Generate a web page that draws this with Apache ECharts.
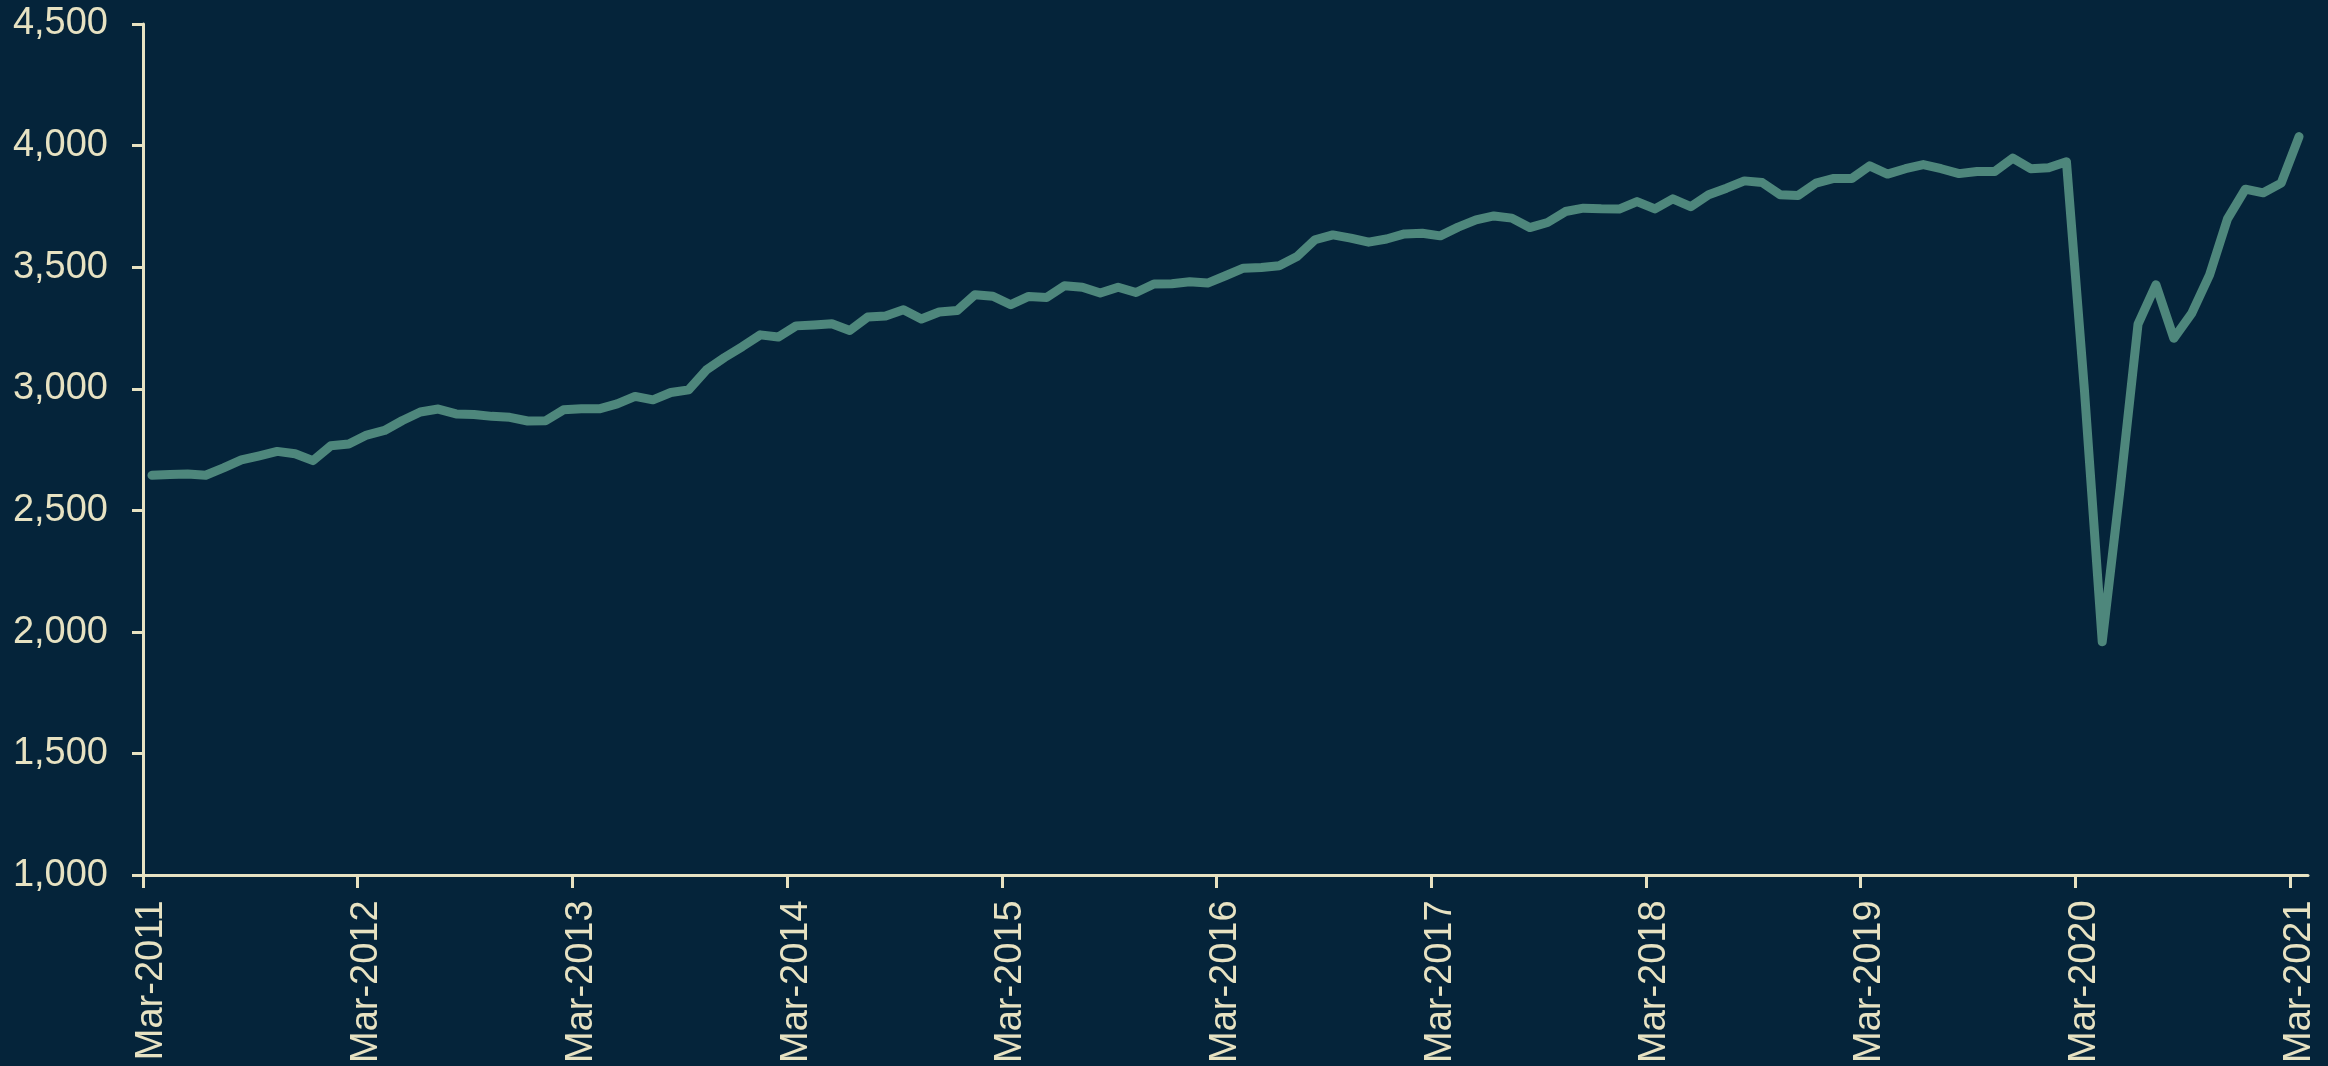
<!DOCTYPE html>
<html>
<head>
<meta charset="utf-8">
<title>Monthly series</title>
<script src="https://cdn.jsdelivr.net/npm/echarts@6/dist/echarts.min.js"></script>
<style>
  html, body { margin: 0; padding: 0; background: #05243a; }
  #chart { width: 2328px; height: 1066px; }
</style>
</head>
<body>
<div id="chart"></div>
<script>
// month labels, Mar-2011 .. Mar-2021
var monthNames = ['Jan', 'Feb', 'Mar', 'Apr', 'May', 'Jun', 'Jul', 'Aug', 'Sep', 'Oct', 'Nov', 'Dec'];
var months = [];
for (var m = 0; m < 121; m++) {
  var k = 2 + m;
  months.push(monthNames[k % 12] + '-' + (2011 + Math.floor(k / 12)));
}

var yTicks = [1000, 1500, 2000, 2500, 3000, 3500, 4000, 4500];

// values, one per month
var values = [
  2645, 2648, 2650, 2645, 2675, 2708, 2725, 2743, 2733, 2705, 2766, 2773,
  2810, 2829, 2870, 2905, 2917, 2897, 2895, 2887, 2883, 2868, 2869, 2914,
  2918, 2918, 2938, 2969, 2955, 2985, 2996, 3079, 3129, 3174, 3222, 3213,
  3259, 3263, 3268, 3240, 3295, 3300, 3325, 3287, 3316, 3322, 3387, 3381,
  3346, 3380, 3376, 3424, 3418, 3394, 3418, 3396, 3431, 3432, 3440, 3435,
  3465, 3496, 3499, 3506, 3544, 3613, 3633, 3620, 3603, 3616, 3637, 3640,
  3629, 3665, 3695, 3711, 3702, 3663, 3684, 3729, 3743, 3740, 3739, 3770,
  3740, 3781, 3749, 3798, 3825, 3855, 3848, 3798, 3795, 3846, 3865, 3865,
  3917, 3883, 3905, 3922, 3905, 3885, 3894, 3894, 3949, 3905, 3909, 3934,
  3000, 1960, 2590, 3266, 3428, 3208, 3310, 3469, 3699, 3821, 3806, 3846,
  4037
];

var cream = '#e7e2c2';
var fontFamily = '"Liberation Sans", Arial, sans-serif';
var yearly = function (i) { return i % 12 === 0; };

var chart = echarts.init(document.getElementById('chart'));

var option = {
  backgroundColor: '#05243a',
  animation: false,
  grid: [
    { left: 143, right: 20, top: 24, bottom: 189 },
    // same bands, one month shorter: carries the yearly ticks only,
    // so no extra tick lands at the far end of the axis
    { left: 143, right: 20 + (2328 - 163) / 121, top: 24, bottom: 189 }
  ],
  xAxis: [{
    type: 'category',
    gridIndex: 0,
    data: months,
    boundaryGap: true,
    axisLine: {
      show: true,
      lineStyle: { color: cream, width: 3 }
    },
    axisTick: { show: false },
    axisLabel: {
      interval: yearly,
      rotate: 90,
      margin: 25,
      color: cream,
      fontSize: 38,
      fontFamily: fontFamily
    },
    splitLine: { show: false }
  }, {
    type: 'category',
    gridIndex: 1,
    data: months.slice(0, 120),
    boundaryGap: true,
    axisLine: { show: false },
    axisTick: {
      show: true,
      length: 11,
      interval: yearly,
      lineStyle: { color: cream, width: 3 }
    },
    axisLabel: { show: false },
    splitLine: { show: false }
  }],
  yAxis: [{
    type: 'value',
    gridIndex: 0,
    min: yTicks[0],
    max: yTicks[yTicks.length - 1],
    interval: 500,
    axisLine: {
      show: true,
      lineStyle: { color: cream, width: 3 }
    },
    axisTick: {
      show: true,
      length: 11,
      lineStyle: { color: cream, width: 3 }
    },
    axisLabel: {
      margin: 35,
      color: cream,
      fontSize: 38,
      fontFamily: fontFamily,
      formatter: function (v) { return v.toLocaleString('en-US'); }
    },
    splitLine: { show: false }
  }, {
    type: 'value',
    gridIndex: 1,
    min: yTicks[0],
    max: yTicks[yTicks.length - 1],
    show: false
  }],
  series: [{
    type: 'line',
    xAxisIndex: 0,
    yAxisIndex: 0,
    data: values,
    symbol: 'none',
    lineStyle: {
      color: '#4e877c',
      width: 9,
      cap: 'round',
      join: 'round'
    }
  }]
};

chart.setOption(option);
</script>
</body>
</html>
